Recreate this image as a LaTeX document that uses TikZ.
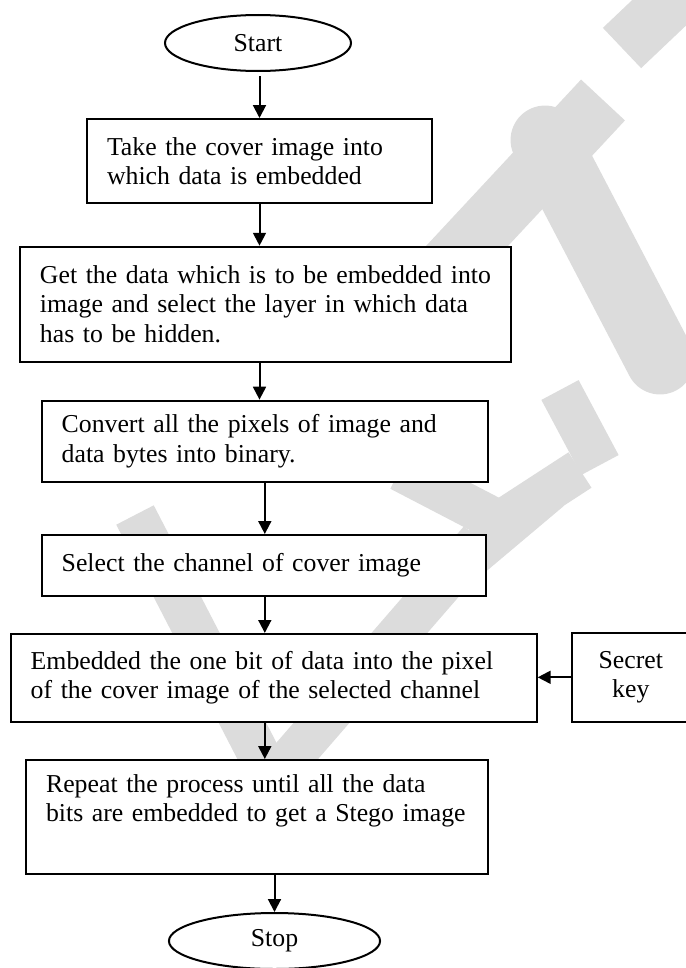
\documentclass[tikz,border=0pt]{standalone}
\usepackage{fontspec}
\setmainfont{Liberation Serif}
\usetikzlibrary{arrows.meta,shapes.geometric}
\definecolor{wmgray}{RGB}{220,220,220}
\begin{document}
\begin{tikzpicture}[x=0.45pt,y=-0.45pt,
  box/.style={draw, fill=white, line width=0.9pt, rectangle, inner xsep=9pt,
    inner ysep=0pt, align=left, font=\fontsize{11.6}{13.2}\selectfont},
  keybox/.style={draw, fill=white, line width=0.9pt, rectangle, inner sep=0pt,
    align=center, font=\fontsize{11.6}{13.2}\selectfont},
  term/.style={draw, fill=white, ellipse, line width=0.9pt, inner sep=0pt,
    font=\fontsize{11.6}{13.2}\selectfont},
  flow/.style={line width=0.9pt, -{Triangle[length=5.8pt,width=5.8pt]}},
  wm/.style={wmgray, line width=19pt}
]
\useasboundingbox (0,0) rectangle (685,968);

% light grey watermark strokes behind the chart
\draw[wm, line width=27pt] (440,275) -- (603,100);
\draw[wm, line width=25pt] (622,48) -- (720,-45);
\draw[wm, line width=31pt, line cap=round] (545,140) -- (660,360);
\draw[wm] (135,515) -- (272,780);
\draw[wm] (272,780) -- (480,540);
\draw[wm, line join=round] (400,470) -- (500,522) -- (580,470);
\draw[wm] (455,570) -- (550,490);
\draw[wm] (560,390) -- (600,465);

% flowchart
\node[term, minimum width=83.7pt, minimum height=25.2pt] (start) at (258,43) {Start};
\node[box, minimum width=155.25pt, text width=137.25pt, minimum height=37.8pt] (b1) at (259.5,161)
  {\mbox{Take the cover image into}\\\mbox{which data is embedded}};
\node[box, minimum width=220.8pt, text width=202.8pt, minimum height=51.75pt] (b2) at (265.3,304.2)
  {\mbox{Get the data which is to be embedded into}\\\mbox{image and select the layer in which data}\\\mbox{has to be hidden.}};
\node[box, minimum width=200.8pt, text width=182.8pt, minimum height=36.6pt] (b3) at (264.8,441.3)
  {\mbox{Convert all the pixels of image and}\\\mbox{data bytes into binary.}};
\node[box, minimum width=199.8pt, text width=181.8pt, minimum height=27.3pt] (b4) at (263.7,565.3)
  {\mbox{Select the channel of cover image}};
\node[box, minimum width=236.7pt, text width=218.7pt, minimum height=39.5pt] (b5) at (273.7,677.8)
  {\mbox{Embedded the one bit of data into the pixel}\\\mbox{of the cover image of the selected channel}};
\node[keybox, minimum width=53.2pt, minimum height=39.9pt] (key) at (630.8,677.3)
  {Secret\\key};
\node[box, minimum width=208pt, text width=190pt, minimum height=51.3pt] (b6) at (257.2,817)
  {\mbox{Repeat the process until all the data}\\\mbox{bits are embedded to get a Stego image}\\\strut};
\node[term, minimum width=95pt, minimum height=25.2pt] (stop) at (274.5,941) {Stop};

% connectors
\draw[flow] ([yshift=-2pt]start.south -| b1.north) -- (b1.north);
\draw[flow] (b1.south) -- (b2.north -| b1.south);
\draw[flow] (b2.south -| b1.south) -- (b3.north -| b1.south);
\draw[flow] (b3.south) -- (b4.north -| b3.south);
\draw[flow] (b4.south -| b3.south) -- (b5.north -| b3.south);
\draw[flow] (b5.south -| b3.south) -- (b6.north -| b3.south);
\draw[flow] (b6.south -| stop.north) -- (stop.north);
\draw[flow] (key.west) -- (b5.east |- key.west);
\end{tikzpicture}
\end{document}
